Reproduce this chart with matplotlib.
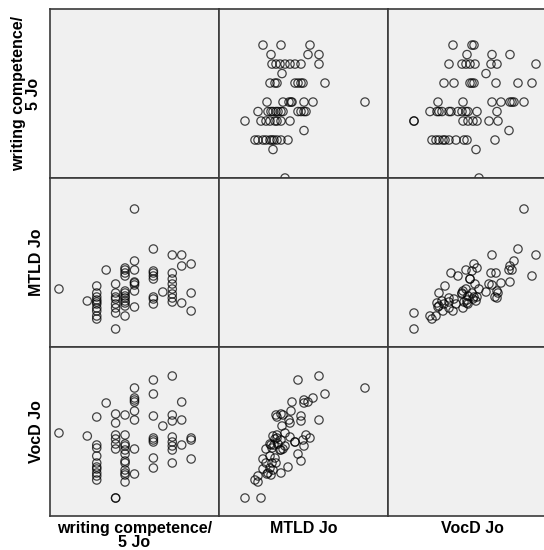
import matplotlib.pyplot as plt

# scatterplot matrix: writing competence, MTLD and VocD (one entry per pupil)
writing = [14, 14, 14,
           13, 13, 13,
           12, 12, 12, 12, 12, 12, 12, 12,
           11,
           10, 10, 10, 10, 10, 10, 10, 10,
           8, 8, 8, 8, 8, 8, 8, 8,
           7, 7, 7, 7, 7, 7, 7, 7, 7, 7, 7, 7,
           6, 6, 6, 6, 6, 6, 6, 6,
           5,
           4, 4, 4, 4, 4, 4, 4, 4, 4, 4,
           3,
           0]
mtld = [44, 62, 91,
        52, 89, 100,
        53, 57, 61, 66, 71, 76, 82, 100,
        63,
        51, 56, 58, 76, 79, 82, 84, 106,
        48, 64, 70, 72, 73, 85, 94, 146,
        39, 49, 52, 54, 57, 59, 62, 64, 79, 82, 85, 87,
        26, 42, 47, 51, 56, 58, 62, 71,
        85,
        36, 39, 44, 47, 51, 53, 55, 58, 62, 69,
        54,
        66]
vocd = [65, 84, 86,
        79, 122, 104,
        61, 109, 74, 78, 87, 82, 103, 148,
        98,
        56, 66, 86, 82, 144, 108, 84, 130,
        50, 75, 104, 113, 122, 124, 126, 136,
        42, 51, 49, 54, 61, 80, 74, 109, 70, 63, 78, 89,
        26, 26, 75, 80, 85, 89, 110, 101,
        121,
        44, 48, 55, 61, 68, 76, 79, 107, 51, 57,
        88,
        91]

variables = [writing, mtld, vocd]
names = ['writing competence/\n5 Jo', 'MTLD Jo', 'VocD Jo']
xlims = [(-0.95, 16.95), (0, 169), (0, 169)]
ylims = [(0, 17.8), (8, 177), (8, 177)]

W, H = 544, 550
fig = plt.figure(figsize=(W / 100, H / 100), dpi=100)
plt.rcParams['font.family'] = ['Liberation Sans', 'DejaVu Sans']

lefts = [50, 219, 388]
tops = [9, 178, 347]
size = 169

for r in range(3):
    for c in range(3):
        ax = fig.add_axes([lefts[c] / W, (H - tops[r] - size) / H, size / W, size / H])
        ax.set_facecolor('#f0f0f0')
        for sp in ax.spines.values():
            sp.set_color('#3a3a3a')
            sp.set_linewidth(1.2)
        ax.set_xticks([])
        ax.set_yticks([])
        ax.set_xlim(xlims[c])
        ax.set_ylim(ylims[r])
        if r != c:
            ax.scatter(variables[c], variables[r], s=36, facecolors='none',
                       edgecolors='black', linewidths=0.9, alpha=0.72,
                       clip_on=False, zorder=3)

# column labels
for c in range(3):
    fig.text((lefts[c] + size / 2) / W, 1 - 521 / H, names[c], ha='center', va='top',
             fontsize=11.5, fontweight='bold', linespacing=0.92)

# row labels
row_x = [26, 36.5, 36.5]
for r in range(3):
    fig.text(row_x[r] / W, 1 - (tops[r] + size / 2) / H, names[r], ha='center', va='center',
             rotation=90, fontsize=11.5, fontweight='bold', linespacing=0.92)

fig.savefig('out.png', dpi=100, facecolor='white')
